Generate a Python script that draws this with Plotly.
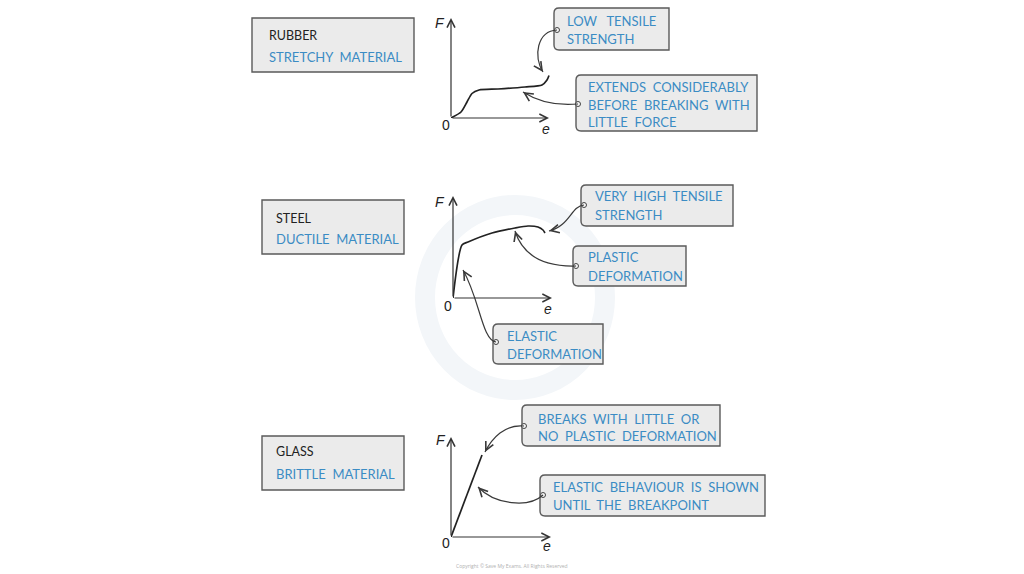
import plotly.graph_objects as go

# ---------------- data (extension e, force F; arbitrary units) ----------------
rubber_e = [0.0, 0.1, 1.0, 1.6, 2.1, 2.8, 4.7, 7.4, 9.1, 9.6, 9.8]
rubber_F = [0.0, 0.05, 0.6, 1.6, 2.45, 2.8, 2.9, 3.1, 3.3, 3.8, 4.25]
steel_e = [0.0, 0.9, 1.5, 3.9, 6.2, 7.5, 8.5, 9.0, 9.2]
steel_F = [0.0, 5.3, 5.6, 6.5, 7.0, 7.2, 7.1, 6.8, 6.5]
glass_e = [0.0, 3.1]
glass_F = [0.0, 8.2]

materials = ["RUBBER", "STEEL", "GLASS"]
material_types = ["STRETCHY\u00a0\u00a0MATERIAL", "DUCTILE\u00a0\u00a0MATERIAL", "BRITTLE\u00a0\u00a0MATERIAL"]

S = "\u00a0\u00a0"
callout_texts = [
    ["LOW" + S + "\u00a0TENSILE", "STRENGTH"],
    ["EXTENDS" + S + "CONSIDERABLY", "BEFORE" + S + "BREAKING" + S + "WITH", "LITTLE" + S + "FORCE"],
    ["VERY" + S + "HIGH" + S + "TENSILE", "STRENGTH"],
    ["PLASTIC", "DEFORMATION"],
    ["ELASTIC", "DEFORMATION"],
    ["BREAKS" + S + "WITH" + S + "LITTLE" + S + "OR", "NO" + S + "PLASTIC" + S + "DEFORMATION"],
    ["ELASTIC" + S + "BEHAVIOUR" + S + "IS" + S + "SHOWN", "UNTIL" + S + "THE" + S + "BREAKPOINT"],
]

# ---------------- layout geometry (pixels) ----------------
W, H = 1024, 574
PX = 10.0  # pixels per data unit in each panel
panel_origin = [(451, 118), (453, 298), (451, 537)]
axis_len = [(9.8, 10.0), (9.9, 10.2), (10.0, 10.0)]
label_pos = [  # F, 0, e
    [(440, 23), (446, 125), (546, 129)],
    [(440, 202), (448, 306), (548, 309)],
    [(441, 440), (446, 543), (547, 546)],
]

material_boxes = [(252, 18, 414, 72), (262, 200, 404, 254), (262, 436, 404, 490)]
material_text_y = [(35, 57), (218, 239), (451, 474)]
material_text_x = [267, 274, 274]

callout_boxes = [
    (554, 8, 669, 50),
    (576, 75, 757, 131),
    (581, 185, 733, 226),
    (573, 246, 686, 286),
    (493, 324, 603, 364),
    (522, 405, 720, 446),
    (540, 475, 765, 516),
]
callout_text_x = [565, 586, 593, 586, 505, 536, 551]
callout_text_y = [
    [21, 39], [87, 105, 122], [196, 215], [257, 276], [336, 354], [419, 436], [487, 505],
]
# curved arrows: start(dot), control1, control2, tip
arrows = [
    [(557, 30), (537, 31), (533, 57), (543, 72)],
    [(578, 104), (556, 106), (537, 101), (523, 92)],
    [(584, 205), (571, 206), (570, 226), (549, 231)],
    [(576, 266), (540, 267), (522, 253), (515, 231)],
    [(496, 342), (482, 340), (480, 300), (463, 270)],
    [(524, 426), (505, 424), (492, 438), (485, 452)],
    [(543, 495), (529, 508), (495, 505), (478, 487)],
]

BLUE = "#3b8cc4"
INK = "#222222"
BOXFILL = "#ebebeb"
BOXLINE = "#5a5a5a"
FONT = "Lato"

fig = go.Figure()
curves = [(rubber_e, rubber_F), (steel_e, steel_F), (glass_e, glass_F)]
shapes = []
annotations = []

# very faint watermark ring behind the middle diagram
shapes.append(dict(type="circle", xref="x4", yref="y4", x0=425, y0=205, x1=605, y1=390,
                   line=dict(color="#f3f6f9", width=20), layer="below"))

for i, (ex, fy) in enumerate(curves):
    sfx = "" if i == 0 else str(i + 1)
    ox, oy = panel_origin[i]
    fig.add_trace(go.Scatter(
        x=ex, y=fy, mode="lines", xaxis="x" + sfx, yaxis="y" + sfx,
        line=dict(color=INK, width=1.7, shape="spline" if len(ex) > 2 else "linear", smoothing=0.7),
        hoverinfo="skip", showlegend=False))
    fig.update_layout({
        "xaxis" + sfx: dict(domain=[ox / W, (ox + 11 * PX) / W], range=[0, 11], visible=False, fixedrange=True),
        "yaxis" + sfx: dict(domain=[1 - oy / H, 1 - (oy - 11 * PX) / H], range=[0, 11], visible=False, fixedrange=True),
    })
    xr, yr = "x" + sfx, "y" + sfx
    lx, ly = axis_len[i]
    for (tx, ty) in [(lx, 0), (0, ly)]:
        annotations.append(dict(x=tx, y=ty, ax=0, ay=0, xref=xr, yref=yr, axref=xr, ayref=yr,
                                text="", showarrow=True, arrowhead=5, arrowsize=1.3, arrowwidth=1.2,
                                arrowcolor="#333333", standoff=0, startstandoff=0))
    (fx, fyy), (zx, zy), (ex_, ey_) = label_pos[i]
    for (tx, ty, t, it) in [(fx, fyy, "F", True), (zx, zy, "0", False), (ex_, ey_, "e", True)]:
        annotations.append(dict(x=tx, y=ty, xref="x4", yref="y4", showarrow=False,
                                text=("<i>%s</i>" % t) if it else t,
                                font=dict(family="Liberation Sans", size=14, color=INK)))

# overlay pixel axis
fig.update_layout(
    xaxis4=dict(domain=[0, 1], range=[0, W], visible=False, fixedrange=True),
    yaxis4=dict(domain=[0, 1], range=[H, 0], visible=False, fixedrange=True),
)

# material boxes
for i, (l, t, r, b) in enumerate(material_boxes):
    shapes.append(dict(type="rect", xref="x4", yref="y4", x0=l, y0=t, x1=r, y1=b,
                       fillcolor=BOXFILL, line=dict(color=BOXLINE, width=1.4), layer="below"))
    y1, y2 = material_text_y[i]
    annotations.append(dict(x=material_text_x[i], y=y1, xref="x4", yref="y4", xanchor="left", showarrow=False,
                            text=materials[i], font=dict(family=FONT, size=12.5, color=INK)))
    annotations.append(dict(x=material_text_x[i], y=y2, xref="x4", yref="y4", xanchor="left", showarrow=False,
                            text=material_types[i], font=dict(family=FONT, size=13, color=BLUE)))

# callout (tag-shaped) boxes
c = 5
for i, (l, t, r, b) in enumerate(callout_boxes):
    path = "M%d,%d L%d,%d L%d,%d L%d,%d Q%d,%d %d,%d L%d,%d Q%d,%d %d,%d Z" % (
        l + c, t, r, t, r, b, l + c, b, l, b, l, b - c, l, t + c, l, t, l + c, t)
    shapes.append(dict(type="path", xref="x4", yref="y4", path=path,
                       fillcolor=BOXFILL, line=dict(color=BOXLINE, width=1.4), layer="below"))
    for txt, ty in zip(callout_texts[i], callout_text_y[i]):
        annotations.append(dict(x=callout_text_x[i], y=ty, xref="x4", yref="y4", xanchor="left",
                                showarrow=False, text=txt, font=dict(family=FONT, size=13, color=BLUE)))

# curved arrows
dot_x, dot_y = [], []
for (p0, p1, p2, p3) in arrows:
    path = "M%g,%g C%g,%g %g,%g %g,%g" % (p0 + p1 + p2 + p3)
    shapes.append(dict(type="path", xref="x4", yref="y4", path=path,
                       line=dict(color="#3a3a3a", width=1.2)))
    dx, dy = p2[0] - p3[0], p2[1] - p3[1]
    n = (dx * dx + dy * dy) ** 0.5
    annotations.append(dict(x=p3[0], y=p3[1], xref="x4", yref="y4", ax=dx / n * 6, ay=dy / n * 6,
                            text="", showarrow=True, arrowhead=5, arrowsize=1.5, arrowwidth=1.1,
                            arrowcolor="#3a3a3a", standoff=0, startstandoff=0))
    dot_x.append(p0[0])
    dot_y.append(p0[1])

fig.add_trace(go.Scatter(x=dot_x, y=dot_y, xaxis="x4", yaxis="y4", mode="markers",
                         marker=dict(size=5, color="#f4f4f4", line=dict(color="#444444", width=1)),
                         hoverinfo="skip", showlegend=False))

annotations.append(dict(x=512, y=566, xref="x4", yref="y4", showarrow=False,
                        text="Copyright © Save My Exams. All Rights Reserved",
                        font=dict(family="Open Sans", size=5, color="#b0b0b0")))

fig.update_layout(
    width=W, height=H, margin=dict(l=0, r=0, t=0, b=0),
    paper_bgcolor="white", plot_bgcolor="rgba(0,0,0,0)",
    shapes=shapes, annotations=annotations, showlegend=False,
)
fig.write_html("out.html", config={"displayModeBar": False},
               post_script="document.body.style.margin='0';document.body.style.overflow='hidden';")
